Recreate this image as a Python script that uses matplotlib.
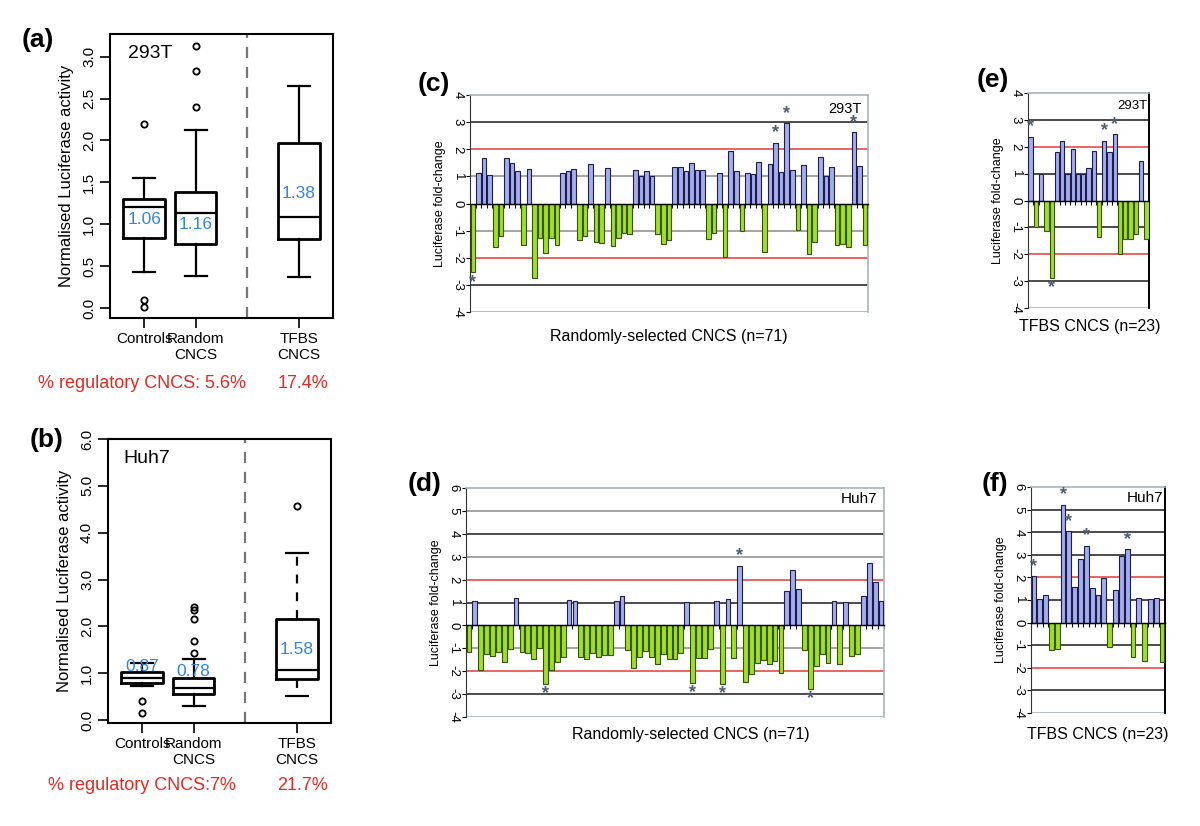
import matplotlib.pyplot as plt
import matplotlib.transforms as mtransforms
import numpy as np

plt.rcParams['font.family'] = ['Liberation Sans', 'DejaVu Sans']

W, H = 1200, 826

# ---------------- box plots: (a) 293T, (b) Huh7 ----------------
box_names = ['Controls', 'Random\nCNCS', 'TFBS\nCNCS']

a_whislo = [0.43, 0.38, 0.37]
a_q1 = [0.83, 0.76, 0.82]
a_med = [1.21, 1.13, 1.09]
a_q3 = [1.30, 1.38, 1.97]
a_whishi = [1.55, 2.13, 2.65]
a_fliers = [[2.19, 0.10, 0.01], [2.40, 2.83, 3.13], []]
a_means = [1.06, 1.16, 1.38]
a_regulatory = ['% regulatory CNCS: 5.6%', '17.4%']

b_whislo = [0.73, 0.30, 0.52]
b_q1 = [0.80, 0.55, 0.88]
b_med = [0.90, 0.68, 1.08]
b_q3 = [1.02, 0.90, 2.15]
b_whishi = [1.22, 1.30, 3.56]
b_fliers = [[0.42, 0.16], [1.43, 1.70, 2.15, 2.35, 2.42], [4.58]]
b_means = [0.87, 0.78, 1.58]
b_regulatory = ['% regulatory CNCS:7%', '21.7%']

# ---------------- bar charts: luciferase fold-change ----------------
c_vals = [-2.54, 1.13, 1.68, 1.06, -1.61, -1.20, 1.68, 1.50, 1.20, -1.52,
          1.28, -2.76, -1.26, -1.83, -1.26, -1.52, 1.13, 1.20, 1.27, -1.34,
          -1.21, 1.46, -1.43, -1.46, 1.32, -1.58, -1.27, -1.07, -1.12, 1.22,
          1.00, 1.20, 1.00, -1.12, -1.49, -1.33, 1.33, 1.33, 1.18, 1.48,
          1.22, 1.24, -1.30, -1.08, 1.14, -1.97, 1.95, 1.19, -1.01, 1.11,
          1.07, 1.53, -1.78, 1.45, 2.24, 1.16, 2.96, 1.22, -0.99, 1.41,
          -1.86, -1.42, 1.72, 1.00, 1.35, -1.54, -1.48, -1.59, 2.63, 1.40,
          -1.52]
c_stars = [0, 54, 56, 68]

d_vals = [-1.16, 1.07, -1.95, -1.27, -1.33, -1.14, -1.60, -1.02, 1.18, -1.16,
          -1.19, -1.45, -1.00, -2.55, -1.95, -1.58, -1.40, 1.13, 1.07, -1.37,
          -1.45, -1.22, -1.37, -1.31, -1.28, 1.05, 1.30, -1.09, -1.88, -1.37,
          -1.13, -1.37, -1.67, -1.27, -1.48, -1.46, -1.21, 1.01, -2.50, -1.41,
          -1.41, -1.03, 1.06, -2.57, 1.14, -1.41, 2.61, -2.46, -2.11, -1.63,
          -1.53, -1.67, -1.56, -2.07, 1.50, 2.43, 1.61, -1.07, -2.77, -1.79,
          -1.24, -1.63, 1.06, -1.69, 1.01, -1.34, -1.24, 1.29, 2.73, 1.91,
          1.06]
d_stars = [13, 38, 43, 46, 58]

e_vals = [2.37, -1.00, 1.00, -1.15, -2.89, 1.81, 2.23, 1.00, 1.93, 1.00,
          1.00, 1.20, 1.86, -1.37, 2.23, 1.81, 2.47, -1.99, -1.44, -1.44,
          -1.25, 1.48, -1.42]
e_stars = [0, 4, 14, 16]

f_vals = [2.06, 1.06, 1.22, -1.22, -1.18, 5.22, 4.06, 1.56, 2.82, 3.40,
          1.54, 1.20, 1.96, -1.10, 1.46, 2.96, 3.26, -1.50, 1.10, -1.68,
          1.06, 1.10, -1.74]
f_stars = [0, 5, 6, 9, 16]

BLUE_TXT = '#2f86e6'
RED_TXT = '#e8281f'
BAR_UP, BAR_UP_EDGE = '#a3aced', '#1d1d4a'
BAR_DN, BAR_DN_EDGE = '#9fe01f', '#35520a'
GRID_K, GRID_G, GRID_R = '#1a1a1a', '#8c8c8c', '#e33a36'
FRAME = '#a9b4bb'
STAR = '#4f5f6e'


def rect(l, t, r, b):
    return [l / W, 1 - b / H, (r - l) / W, (b - t) / H]


def fxy(x, y):
    return x / W, 1 - y / H


fig = plt.figure(figsize=(12, 8.26), dpi=100)


def box_panel(r, whislo, q1, med, q3, whishi, fliers, means, mean_y,
              ylim, yticks, cell, cell_xy, dashed_tfbs):
    ax = fig.add_axes(rect(*r))
    stats = []
    for i in range(3):
        stats.append(dict(whislo=whislo[i], q1=q1[i], med=med[i], q3=q3[i],
                          whishi=whishi[i], fliers=fliers[i]))
    parts = ax.bxp(stats, positions=[1, 2, 4], widths=0.8, capwidths=0.42,
                   boxprops=dict(color='black', lw=2.0),
                   medianprops=dict(color='black', lw=1.6),
                   whiskerprops=dict(color='black', lw=1.6),
                   capprops=dict(color='black', lw=1.6),
                   flierprops=dict(marker='o', markersize=4.5, mfc='none',
                                   mec='black', mew=1.3))
    if dashed_tfbs:
        parts['whiskers'][4].set_linestyle((0, (4, 4)))
        parts['whiskers'][5].set_linestyle((0, (4, 4)))
    ax.axvline(3, color='#777777', lw=1.6, ls=(0, (5, 4)))
    for i, p in enumerate([1, 2, 4]):
        ax.text(p, mean_y[i], f'{means[i]:.2f}', color=BLUE_TXT,
                ha='center', va='center', fontsize=12.5)
    ax.set_xlim(0.34, 4.66)
    ax.set_ylim(*ylim)
    ax.set_yticks(yticks)
    ax.set_yticklabels([f'{t:.1f}' for t in yticks], rotation=90,
                       va='center', fontsize=11)
    ax.set_xticks([1, 2, 4])
    ax.set_xticklabels(box_names, fontsize=11)
    # two-line labels sit a little right of their ticks
    shifts = [2, 8, 8]
    for lab, s in zip(ax.get_xticklabels(), shifts):
        lab.set_transform(lab.get_transform() + mtransforms.ScaledTranslation(
            s / 100, 0, fig.dpi_scale_trans))
    ax.tick_params(length=7, width=1.2, pad=3)
    for s in ax.spines.values():
        s.set_linewidth(1.5)
    ax.set_ylabel('Normalised Luciferase activity', fontsize=12, labelpad=6)
    ax.text(cell_xy[0], cell_xy[1], cell, transform=ax.transAxes,
            fontsize=14, ha='left', va='center')
    return ax


box_panel((110, 34, 333, 318), a_whislo, a_q1, a_med, a_q3, a_whishi,
          a_fliers, a_means, [1.05, 1.00, 1.37], (-0.12, 3.27),
          np.arange(0, 3.01, 0.5), '293T', (0.08, 0.93), False)
box_panel((108, 439, 331, 723), b_whislo, b_q1, b_med, b_q3, b_whishi,
          b_fliers, b_means, [1.14, 1.03, 1.50], (-0.06, 6.0),
          np.arange(0, 6.01, 1.0), 'Huh7', (0.07, 0.93), True)

fig.text(*fxy(38, 384), a_regulatory[0], color=RED_TXT, fontsize=13,
         ha='left', va='center')
fig.text(*fxy(303, 384), a_regulatory[1], color=RED_TXT, fontsize=13,
         ha='center', va='center')
fig.text(*fxy(48, 785), b_regulatory[0], color=RED_TXT, fontsize=13,
         ha='left', va='center')
fig.text(*fxy(303, 785), b_regulatory[1], color=RED_TXT, fontsize=13,
         ha='center', va='center')


def bar_panel(r, vals, stars, ylim, lines, right_dark, cell, cell_fs,
              xlabel, xlabel_xy):
    ax = fig.add_axes(rect(*r))
    vals = np.asarray(vals)
    x = np.arange(len(vals))
    up = vals > 0
    for lv, c in lines.items():
        ax.axhline(lv, color=c, lw=1.1, zorder=1)
    ax.axhline(ylim[0], color=FRAME, lw=1.2, zorder=1)
    ax.bar(x[up], vals[up], width=0.82, color=BAR_UP,
           edgecolor=BAR_UP_EDGE, lw=0.8, zorder=3)
    ax.bar(x[~up], vals[~up], width=0.82, color=BAR_DN,
           edgecolor=BAR_DN_EDGE, lw=0.8, zorder=3)
    for i in stars:
        off = 7 if vals[i] > 0 else -7
        ax.annotate('*', (x[i], vals[i]), xytext=(0, off),
                    textcoords='offset points', ha='center', va='center',
                    fontsize=13, fontweight='bold', color=STAR)
    ax.set_xlim(-0.5, len(vals) - 0.5)
    ax.set_ylim(*ylim)
    ax.spines['bottom'].set_position(('data', 0))
    ax.spines['bottom'].set_color('black')
    ax.spines['bottom'].set_linewidth(1.0)
    ax.spines['bottom'].set_zorder(4)
    ax.spines['top'].set_color(FRAME)
    ax.spines['top'].set_linewidth(1.2)
    ax.spines['right'].set_color('black' if right_dark else FRAME)
    ax.spines['right'].set_linewidth(1.4 if right_dark else 1.2)
    ax.spines['left'].set_color('#333333')
    ax.set_xticks(np.arange(len(vals) + 1) - 0.5)
    ax.tick_params(axis='x', direction='out', length=3, labelbottom=False,
                   width=0.8)
    yt = np.arange(ylim[0], ylim[1] + 1)
    ax.set_yticks(yt)
    ax.set_yticklabels([str(int(t)) for t in yt], rotation=-90,
                       va='center', ha='center', fontsize=9.5)
    ax.tick_params(axis='y', length=3, pad=6)
    ax.set_ylabel('Luciferase fold-change', fontsize=9, labelpad=4)
    ax.text(0.985, 1 - 0.5 / (ylim[1] - ylim[0]), cell,
            transform=ax.transAxes, ha='right', va='center',
            fontsize=cell_fs)
    fig.text(*fxy(*xlabel_xy), xlabel, ha='center', va='center',
             fontsize=11.5)
    return ax


bar_panel((470, 95, 868, 312), c_vals, c_stars, (-4, 4),
          {3: GRID_K, 2: GRID_R, 1: GRID_G, -1: GRID_G, -2: GRID_R,
           -3: GRID_K}, False, '293T', 10.5,
          'Randomly-selected CNCS (n=71)', (669, 337))
bar_panel((466, 488, 884, 717), d_vals, d_stars, (-4, 6),
          {5: GRID_G, 4: GRID_K, 3: GRID_G, 2: GRID_R, 1: GRID_K,
           -1: GRID_G, -2: GRID_R, -3: GRID_K}, False, 'Huh7', 11,
          'Randomly-selected CNCS (n=71)', (691, 735))
bar_panel((1028, 93, 1149, 308), e_vals, e_stars, (-4, 4),
          {3: GRID_K, 2: GRID_R, 1: GRID_K, -1: GRID_K, -2: GRID_R,
           -3: GRID_K}, True, '293T', 9.5,
          'TFBS CNCS (n=23)', (1090, 327))
bar_panel((1031, 487, 1165, 713), f_vals, f_stars, (-4, 6),
          {5: GRID_K, 4: GRID_K, 3: GRID_K, 2: GRID_R, 1: GRID_K,
           -1: GRID_K, -2: GRID_R, -3: GRID_K}, True, 'Huh7', 11,
          'TFBS CNCS (n=23)', (1098, 735))

for lab, (px, py) in [('(a)', (38, 40)), ('(b)', (47, 440)),
                      ('(c)', (434, 84)), ('(d)', (425, 484)),
                      ('(e)', (993, 80)), ('(f)', (995, 484))]:
    fig.text(*fxy(px, py), lab, fontsize=19, fontweight='bold',
             ha='center', va='center')

fig.savefig('out.png', dpi=100)
